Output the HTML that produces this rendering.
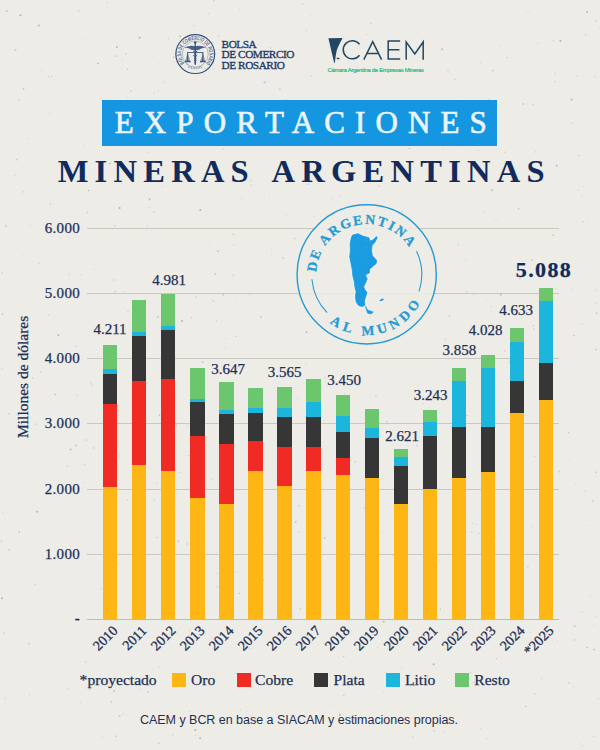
<!DOCTYPE html>
<html><head><meta charset="utf-8"><title>Exportaciones mineras argentinas</title>
<style>
html,body{margin:0;padding:0;}
body{width:600px;height:750px;position:relative;overflow:hidden;background:#edece6;font-family:"Liberation Serif",serif;color:#1d3057;}
.abs{position:absolute;}
.grid{position:absolute;left:87px;width:472px;height:1px;background:#c9c9c2;}
.yl{position:absolute;left:30px;width:50px;text-align:right;font-size:15px;line-height:16px;letter-spacing:0.3px;-webkit-text-stroke:0.25px #1d3057;}
.dl{position:absolute;width:60px;text-align:center;font-size:15px;line-height:16px;-webkit-text-stroke:0.25px #1d3057;}
.xl{position:absolute;font-size:14.1px;-webkit-text-stroke:0.3px #1d3057;line-height:16px;white-space:nowrap;transform-origin:100% 50%;transform:rotate(-45deg);text-align:right;width:60px;}
.seg{position:absolute;}
.lg{position:absolute;top:671px;-webkit-text-stroke:0.25px #1d3057;font-size:15.6px;line-height:18px;white-space:nowrap;}
.sw{position:absolute;top:673.4px;width:14.1px;height:14.1px;}
</style></head><body>
<svg class="abs" style="left:0;top:0" width="600" height="750" viewBox="0 0 600 750"><circle cx="194.3" cy="113.1" r="0.5" fill="#c9c9c6"/><circle cx="492.8" cy="70.6" r="1.0" fill="#c9c9c6"/><circle cx="545.8" cy="161.0" r="0.5" fill="#d8d8d4"/><circle cx="250.9" cy="180.5" r="1.0" fill="#d8d8d4"/><circle cx="35.5" cy="424.1" r="0.6" fill="#b4b4b2"/><circle cx="568.6" cy="432.8" r="0.8" fill="#c9c9c6"/><circle cx="585.8" cy="34.9" r="0.6" fill="#bdbdbb"/><circle cx="251.5" cy="405.5" r="1.0" fill="#bdbdbb"/><circle cx="336.2" cy="511.5" r="0.5" fill="#b4b4b2"/><circle cx="342.7" cy="140.9" r="0.5" fill="#b4b4b2"/><circle cx="427.3" cy="423.3" r="1.0" fill="#d2d2cf"/><circle cx="297.8" cy="398.8" r="0.7" fill="#d8d8d4"/><circle cx="351.3" cy="339.9" r="0.7" fill="#d2d2cf"/><circle cx="476.6" cy="524.2" r="0.6" fill="#c9c9c6"/><circle cx="344.7" cy="393.9" r="0.7" fill="#d8d8d4"/><circle cx="172.8" cy="735.1" r="0.5" fill="#b4b4b2"/><circle cx="250.9" cy="567.9" r="0.6" fill="#d8d8d4"/><circle cx="253.0" cy="721.5" r="0.5" fill="#b4b4b2"/><circle cx="343.8" cy="656.6" r="0.7" fill="#bdbdbb"/><circle cx="417.2" cy="445.8" r="1.0" fill="#d8d8d4"/><circle cx="41.3" cy="70.2" r="0.7" fill="#d8d8d4"/><circle cx="418.2" cy="48.7" r="0.7" fill="#b4b4b2"/><circle cx="595.9" cy="616.4" r="0.7" fill="#d8d8d4"/><circle cx="532.2" cy="260.3" r="0.8" fill="#bdbdbb"/><circle cx="100.8" cy="87.8" r="0.5" fill="#d2d2cf"/><circle cx="460.9" cy="97.0" r="0.6" fill="#d8d8d4"/><circle cx="234.6" cy="653.6" r="0.5" fill="#d2d2cf"/><circle cx="269.5" cy="412.1" r="0.6" fill="#d8d8d4"/><circle cx="518.4" cy="208.8" r="0.8" fill="#bdbdbb"/><circle cx="409.6" cy="285.3" r="0.6" fill="#d2d2cf"/><circle cx="49.8" cy="113.5" r="0.6" fill="#c9c9c6"/><circle cx="291.0" cy="441.8" r="0.7" fill="#bdbdbb"/><circle cx="2.5" cy="314.2" r="0.7" fill="#b4b4b2"/><circle cx="339.8" cy="714.8" r="1.0" fill="#b4b4b2"/><circle cx="393.0" cy="554.8" r="0.8" fill="#b4b4b2"/><circle cx="235.4" cy="299.2" r="0.5" fill="#d8d8d4"/><circle cx="380.6" cy="46.7" r="0.5" fill="#d2d2cf"/><circle cx="264.4" cy="82.4" r="1.0" fill="#c9c9c6"/><circle cx="61.4" cy="425.1" r="1.0" fill="#c9c9c6"/><circle cx="569.4" cy="460.3" r="0.5" fill="#d2d2cf"/><circle cx="368.4" cy="111.4" r="0.7" fill="#bdbdbb"/><circle cx="361.4" cy="355.6" r="0.5" fill="#d8d8d4"/><circle cx="595.9" cy="349.5" r="0.8" fill="#bdbdbb"/><circle cx="51.5" cy="76.6" r="0.7" fill="#bdbdbb"/><circle cx="287.2" cy="519.0" r="1.0" fill="#c9c9c6"/><circle cx="123.1" cy="714.0" r="0.7" fill="#d2d2cf"/><circle cx="414.0" cy="685.6" r="1.0" fill="#bdbdbb"/><circle cx="587.1" cy="647.5" r="0.7" fill="#b4b4b2"/><circle cx="220.0" cy="125.3" r="0.6" fill="#b4b4b2"/><circle cx="324.9" cy="377.0" r="0.6" fill="#b4b4b2"/><circle cx="486.9" cy="738.7" r="0.6" fill="#d2d2cf"/><circle cx="491.0" cy="554.9" r="0.6" fill="#d2d2cf"/><circle cx="310.6" cy="266.7" r="0.5" fill="#c9c9c6"/><circle cx="474.1" cy="354.2" r="0.6" fill="#b4b4b2"/><circle cx="573.9" cy="335.4" r="0.7" fill="#bdbdbb"/><circle cx="48.3" cy="76.6" r="0.8" fill="#d2d2cf"/><circle cx="202.6" cy="362.0" r="1.0" fill="#c9c9c6"/><circle cx="287.7" cy="489.7" r="0.5" fill="#c9c9c6"/><circle cx="545.9" cy="586.7" r="0.6" fill="#d8d8d4"/><circle cx="533.4" cy="325.4" r="0.7" fill="#c9c9c6"/><circle cx="480.5" cy="728.7" r="0.8" fill="#d8d8d4"/><circle cx="240.8" cy="710.1" r="0.6" fill="#d2d2cf"/><circle cx="595.9" cy="20.7" r="1.0" fill="#d8d8d4"/><circle cx="483.9" cy="109.6" r="1.0" fill="#d8d8d4"/><circle cx="394.4" cy="262.8" r="1.0" fill="#b4b4b2"/><circle cx="78.6" cy="10.7" r="0.5" fill="#b4b4b2"/><circle cx="449.7" cy="104.4" r="0.6" fill="#d2d2cf"/><circle cx="16.8" cy="159.6" r="1.0" fill="#d2d2cf"/><circle cx="458.2" cy="244.5" r="1.0" fill="#d8d8d4"/><circle cx="500.5" cy="45.7" r="0.7" fill="#d8d8d4"/><circle cx="397.5" cy="611.3" r="1.0" fill="#d8d8d4"/><circle cx="496.3" cy="658.6" r="0.6" fill="#b4b4b2"/><circle cx="91.1" cy="382.9" r="0.8" fill="#d2d2cf"/><circle cx="365.1" cy="582.0" r="0.6" fill="#d2d2cf"/><circle cx="84.9" cy="464.3" r="0.5" fill="#b4b4b2"/><circle cx="37.1" cy="511.7" r="1.0" fill="#b4b4b2"/><circle cx="289.5" cy="582.4" r="1.0" fill="#c9c9c6"/><circle cx="149.1" cy="207.7" r="0.5" fill="#b4b4b2"/><circle cx="271.3" cy="20.9" r="0.5" fill="#d8d8d4"/><circle cx="195.4" cy="730.0" r="1.0" fill="#b4b4b2"/><circle cx="119.6" cy="207.9" r="1.0" fill="#b4b4b2"/><circle cx="484.4" cy="380.8" r="0.6" fill="#b4b4b2"/><circle cx="525.9" cy="706.6" r="0.7" fill="#b4b4b2"/><circle cx="535.7" cy="151.9" r="0.8" fill="#d2d2cf"/><circle cx="250.0" cy="294.3" r="0.7" fill="#c9c9c6"/><circle cx="402.7" cy="321.3" r="0.6" fill="#bdbdbb"/><circle cx="470.4" cy="672.8" r="0.6" fill="#bdbdbb"/><circle cx="85.8" cy="662.1" r="0.8" fill="#d2d2cf"/><circle cx="448.0" cy="70.6" r="0.8" fill="#d2d2cf"/><circle cx="593.9" cy="624.3" r="0.6" fill="#d8d8d4"/><circle cx="596.4" cy="302.9" r="0.8" fill="#d2d2cf"/><circle cx="214.0" cy="69.1" r="0.7" fill="#c9c9c6"/><circle cx="202.8" cy="344.0" r="0.5" fill="#d8d8d4"/><circle cx="198.9" cy="467.9" r="1.0" fill="#c9c9c6"/><circle cx="67.7" cy="688.9" r="0.6" fill="#c9c9c6"/><circle cx="50.4" cy="203.9" r="0.6" fill="#bdbdbb"/><circle cx="453.5" cy="614.8" r="0.7" fill="#d8d8d4"/><circle cx="89.6" cy="689.4" r="1.0" fill="#d8d8d4"/><circle cx="420.3" cy="67.1" r="0.5" fill="#d2d2cf"/><circle cx="255.2" cy="54.3" r="0.5" fill="#c9c9c6"/><circle cx="481.0" cy="62.8" r="0.6" fill="#c9c9c6"/><circle cx="158.7" cy="91.3" r="0.5" fill="#bdbdbb"/><circle cx="596.6" cy="313.3" r="0.7" fill="#b4b4b2"/><circle cx="77.5" cy="395.2" r="0.6" fill="#c9c9c6"/><circle cx="581.5" cy="196.4" r="0.6" fill="#d2d2cf"/><circle cx="559.3" cy="471.5" r="1.0" fill="#d2d2cf"/><circle cx="174.0" cy="375.1" r="0.6" fill="#bdbdbb"/><circle cx="208.2" cy="13.6" r="0.7" fill="#c9c9c6"/><circle cx="9.2" cy="549.8" r="1.0" fill="#d2d2cf"/><circle cx="308.5" cy="184.3" r="0.8" fill="#c9c9c6"/><circle cx="395.0" cy="487.6" r="0.8" fill="#b4b4b2"/><circle cx="500.8" cy="294.8" r="1.0" fill="#bdbdbb"/><circle cx="412.6" cy="736.8" r="0.7" fill="#d2d2cf"/><circle cx="499.4" cy="530.0" r="0.6" fill="#d8d8d4"/><circle cx="593.7" cy="736.4" r="0.6" fill="#c9c9c6"/><circle cx="42.4" cy="555.7" r="0.7" fill="#d8d8d4"/><circle cx="97.9" cy="63.4" r="0.8" fill="#b4b4b2"/><circle cx="402.3" cy="211.4" r="0.6" fill="#bdbdbb"/><circle cx="27.1" cy="139.0" r="0.7" fill="#d8d8d4"/><circle cx="2.2" cy="273.1" r="0.7" fill="#b4b4b2"/><circle cx="194.1" cy="25.8" r="0.7" fill="#d2d2cf"/><circle cx="214.0" cy="0.8" r="0.8" fill="#c9c9c6"/><circle cx="284.8" cy="377.1" r="0.6" fill="#d2d2cf"/><circle cx="302.8" cy="3.7" r="0.7" fill="#c9c9c6"/><circle cx="86.3" cy="440.1" r="0.8" fill="#c9c9c6"/><circle cx="179.8" cy="472.3" r="0.5" fill="#b4b4b2"/><circle cx="574.6" cy="639.9" r="0.6" fill="#b4b4b2"/><circle cx="233.7" cy="244.6" r="0.8" fill="#d2d2cf"/><circle cx="170.5" cy="464.0" r="0.6" fill="#c9c9c6"/><circle cx="494.9" cy="536.3" r="1.0" fill="#d8d8d4"/><circle cx="440.3" cy="609.2" r="0.6" fill="#b4b4b2"/><circle cx="451.7" cy="426.4" r="0.5" fill="#b4b4b2"/><circle cx="478.8" cy="533.4" r="0.6" fill="#c9c9c6"/><circle cx="18.7" cy="99.8" r="0.7" fill="#c9c9c6"/><circle cx="226.0" cy="338.5" r="0.5" fill="#c9c9c6"/><circle cx="375.7" cy="510.5" r="0.8" fill="#bdbdbb"/><circle cx="2.0" cy="598.3" r="1.0" fill="#b4b4b2"/><circle cx="55.2" cy="394.5" r="0.8" fill="#bdbdbb"/><circle cx="485.5" cy="634.6" r="0.6" fill="#d2d2cf"/><circle cx="138.4" cy="487.4" r="0.8" fill="#d8d8d4"/><circle cx="507.3" cy="57.6" r="0.7" fill="#c9c9c6"/><circle cx="370.2" cy="482.1" r="0.5" fill="#b4b4b2"/><circle cx="88.5" cy="190.5" r="0.7" fill="#b4b4b2"/><circle cx="340.7" cy="9.4" r="0.5" fill="#d8d8d4"/><circle cx="161.3" cy="504.0" r="0.6" fill="#d8d8d4"/><circle cx="174.5" cy="387.4" r="0.8" fill="#d8d8d4"/><circle cx="279.8" cy="88.9" r="1.0" fill="#d2d2cf"/><circle cx="187.0" cy="64.4" r="0.8" fill="#c9c9c6"/><circle cx="173.8" cy="57.3" r="1.0" fill="#d8d8d4"/><circle cx="596.4" cy="290.1" r="0.6" fill="#c9c9c6"/><circle cx="348.9" cy="106.3" r="1.0" fill="#bdbdbb"/><circle cx="571.6" cy="99.5" r="1.0" fill="#bdbdbb"/><circle cx="532.1" cy="527.5" r="0.6" fill="#d8d8d4"/><circle cx="538.6" cy="364.6" r="0.5" fill="#d2d2cf"/><circle cx="2.2" cy="368.8" r="0.8" fill="#d8d8d4"/><circle cx="181.2" cy="105.5" r="0.7" fill="#d8d8d4"/><circle cx="189.6" cy="630.2" r="0.5" fill="#bdbdbb"/><circle cx="450.4" cy="629.3" r="0.5" fill="#d2d2cf"/><circle cx="427.8" cy="676.2" r="0.7" fill="#bdbdbb"/><circle cx="223.3" cy="294.7" r="1.0" fill="#c9c9c6"/><circle cx="216.4" cy="321.0" r="0.7" fill="#c9c9c6"/><circle cx="168.4" cy="38.7" r="0.7" fill="#d2d2cf"/><circle cx="149.6" cy="199.3" r="1.0" fill="#bdbdbb"/><circle cx="113.9" cy="280.0" r="0.8" fill="#c9c9c6"/><circle cx="487.2" cy="473.2" r="1.0" fill="#b4b4b2"/><circle cx="122.1" cy="60.4" r="0.8" fill="#d8d8d4"/><circle cx="368.9" cy="103.9" r="0.7" fill="#d8d8d4"/><circle cx="29.4" cy="695.1" r="0.6" fill="#d2d2cf"/><circle cx="283.3" cy="257.7" r="0.7" fill="#bdbdbb"/><circle cx="443.4" cy="732.2" r="0.7" fill="#d8d8d4"/><circle cx="393.6" cy="225.6" r="1.0" fill="#d8d8d4"/><circle cx="71.8" cy="482.4" r="0.5" fill="#d2d2cf"/><circle cx="300.4" cy="608.9" r="1.0" fill="#d2d2cf"/><circle cx="271.8" cy="249.6" r="0.8" fill="#d8d8d4"/><circle cx="83.8" cy="144.3" r="0.5" fill="#d2d2cf"/><circle cx="205.2" cy="68.3" r="0.6" fill="#bdbdbb"/><circle cx="155.0" cy="427.2" r="0.5" fill="#d8d8d4"/><circle cx="229.7" cy="559.4" r="0.6" fill="#d8d8d4"/><circle cx="162.1" cy="564.1" r="0.8" fill="#bdbdbb"/><circle cx="344.6" cy="270.1" r="1.0" fill="#b4b4b2"/><circle cx="377.8" cy="647.1" r="0.6" fill="#c9c9c6"/><circle cx="162.6" cy="186.3" r="0.8" fill="#d8d8d4"/><circle cx="259.1" cy="234.0" r="0.5" fill="#d2d2cf"/><circle cx="19.3" cy="532.1" r="0.8" fill="#b4b4b2"/><circle cx="293.9" cy="54.9" r="1.0" fill="#d8d8d4"/><circle cx="583.3" cy="186.3" r="0.5" fill="#d2d2cf"/><circle cx="92.6" cy="391.8" r="0.5" fill="#d8d8d4"/><circle cx="51.0" cy="582.6" r="0.5" fill="#d2d2cf"/><circle cx="139.5" cy="689.9" r="0.7" fill="#d2d2cf"/><circle cx="375.9" cy="396.2" r="0.8" fill="#c9c9c6"/><circle cx="59.7" cy="225.3" r="1.0" fill="#d2d2cf"/><circle cx="232.8" cy="167.7" r="1.0" fill="#c9c9c6"/><circle cx="6.3" cy="226.1" r="0.8" fill="#bdbdbb"/><circle cx="575.4" cy="483.4" r="0.6" fill="#d8d8d4"/><circle cx="315.8" cy="410.3" r="0.5" fill="#d8d8d4"/><circle cx="422.8" cy="230.5" r="0.5" fill="#d2d2cf"/><circle cx="299.0" cy="505.8" r="0.8" fill="#c9c9c6"/><circle cx="154.4" cy="500.5" r="0.7" fill="#d2d2cf"/><circle cx="295.8" cy="521.9" r="0.8" fill="#bdbdbb"/><circle cx="409.5" cy="148.6" r="0.7" fill="#b4b4b2"/><circle cx="40.5" cy="371.8" r="0.6" fill="#bdbdbb"/><circle cx="459.5" cy="145.4" r="0.8" fill="#d2d2cf"/><circle cx="159.0" cy="667.0" r="0.5" fill="#b4b4b2"/><circle cx="297.5" cy="140.5" r="0.6" fill="#d8d8d4"/><circle cx="250.2" cy="499.0" r="1.0" fill="#d2d2cf"/><circle cx="553.2" cy="40.8" r="0.5" fill="#b4b4b2"/><circle cx="85.1" cy="38.9" r="0.5" fill="#d2d2cf"/><circle cx="236.0" cy="673.6" r="0.7" fill="#c9c9c6"/><circle cx="598.5" cy="698.7" r="0.7" fill="#d2d2cf"/><circle cx="111.3" cy="701.9" r="0.8" fill="#c9c9c6"/><circle cx="187.1" cy="544.0" r="0.7" fill="#bdbdbb"/><circle cx="265.5" cy="81.7" r="0.5" fill="#bdbdbb"/><circle cx="48.5" cy="315.1" r="0.5" fill="#b4b4b2"/><circle cx="578.6" cy="155.6" r="0.7" fill="#bdbdbb"/><circle cx="493.2" cy="324.3" r="0.5" fill="#d8d8d4"/><circle cx="117.4" cy="406.1" r="0.8" fill="#d2d2cf"/><circle cx="194.0" cy="553.0" r="0.8" fill="#c9c9c6"/><circle cx="379.0" cy="186.0" r="0.8" fill="#c9c9c6"/><circle cx="225.3" cy="348.0" r="0.5" fill="#bdbdbb"/><circle cx="117.0" cy="47.1" r="1.0" fill="#bdbdbb"/><circle cx="217.8" cy="251.2" r="1.0" fill="#c9c9c6"/><circle cx="157.3" cy="537.5" r="0.7" fill="#bdbdbb"/><circle cx="178.4" cy="541.2" r="1.0" fill="#c9c9c6"/><circle cx="14.6" cy="175.4" r="0.8" fill="#d8d8d4"/><circle cx="572.3" cy="289.9" r="0.7" fill="#d8d8d4"/><circle cx="488.9" cy="99.5" r="0.8" fill="#d2d2cf"/><circle cx="5.2" cy="698.3" r="0.7" fill="#d2d2cf"/><circle cx="364.4" cy="245.8" r="0.7" fill="#d8d8d4"/><circle cx="217.1" cy="586.7" r="0.5" fill="#b4b4b2"/><circle cx="118.4" cy="564.7" r="0.6" fill="#d8d8d4"/><circle cx="38.8" cy="25.4" r="1.0" fill="#b4b4b2"/><circle cx="195.5" cy="735.2" r="0.5" fill="#c9c9c6"/><circle cx="158.9" cy="63.1" r="0.5" fill="#d8d8d4"/><circle cx="299.1" cy="532.3" r="0.8" fill="#d2d2cf"/><circle cx="140.5" cy="312.6" r="1.0" fill="#d2d2cf"/><circle cx="448.8" cy="635.2" r="0.5" fill="#bdbdbb"/><circle cx="176.3" cy="425.2" r="0.7" fill="#bdbdbb"/><circle cx="442.8" cy="149.4" r="0.6" fill="#d2d2cf"/><circle cx="147.2" cy="115.0" r="1.0" fill="#d2d2cf"/><circle cx="195.8" cy="297.1" r="0.6" fill="#b4b4b2"/><circle cx="315.8" cy="487.2" r="0.5" fill="#d8d8d4"/><circle cx="594.6" cy="76.7" r="0.8" fill="#d2d2cf"/><circle cx="504.3" cy="685.8" r="0.5" fill="#bdbdbb"/><circle cx="139.7" cy="37.8" r="1.0" fill="#b4b4b2"/><circle cx="116.5" cy="56.3" r="1.0" fill="#d2d2cf"/><circle cx="269.5" cy="195.0" r="0.5" fill="#c9c9c6"/><circle cx="382.5" cy="532.3" r="0.7" fill="#d2d2cf"/><circle cx="22.5" cy="255.0" r="0.5" fill="#d2d2cf"/><circle cx="599.9" cy="28.7" r="0.6" fill="#c9c9c6"/><circle cx="491.3" cy="306.7" r="0.7" fill="#d2d2cf"/><circle cx="372.6" cy="58.5" r="0.5" fill="#d8d8d4"/><circle cx="328.8" cy="47.5" r="0.5" fill="#d8d8d4"/><circle cx="398.4" cy="115.9" r="1.0" fill="#c9c9c6"/><circle cx="391.8" cy="298.3" r="0.7" fill="#d8d8d4"/><circle cx="592.9" cy="500.9" r="0.8" fill="#c9c9c6"/><circle cx="187.4" cy="424.9" r="0.7" fill="#d8d8d4"/><circle cx="249.9" cy="648.2" r="0.7" fill="#d2d2cf"/><circle cx="234.4" cy="303.7" r="0.5" fill="#d8d8d4"/><circle cx="541.0" cy="317.8" r="0.5" fill="#d8d8d4"/><circle cx="346.7" cy="273.5" r="0.6" fill="#d2d2cf"/><circle cx="8.9" cy="413.7" r="0.8" fill="#c9c9c6"/><circle cx="343.7" cy="695.4" r="1.0" fill="#d2d2cf"/><circle cx="87.5" cy="212.5" r="1.0" fill="#d2d2cf"/><circle cx="555.3" cy="81.6" r="0.8" fill="#d2d2cf"/><circle cx="181.0" cy="628.0" r="0.5" fill="#d8d8d4"/><circle cx="188.7" cy="455.7" r="0.8" fill="#c9c9c6"/><circle cx="542.5" cy="465.3" r="0.6" fill="#d2d2cf"/><circle cx="372.6" cy="461.0" r="0.6" fill="#d8d8d4"/><circle cx="109.8" cy="163.6" r="0.8" fill="#b4b4b2"/><circle cx="93.9" cy="269.4" r="0.6" fill="#d2d2cf"/><circle cx="582.4" cy="611.7" r="0.6" fill="#c9c9c6"/><circle cx="530.3" cy="631.9" r="0.5" fill="#bdbdbb"/><circle cx="70.6" cy="449.6" r="1.0" fill="#bdbdbb"/><circle cx="389.4" cy="231.2" r="0.6" fill="#d8d8d4"/><circle cx="233.5" cy="275.6" r="1.0" fill="#d8d8d4"/><circle cx="107.3" cy="2.6" r="0.8" fill="#d8d8d4"/><circle cx="141.2" cy="572.7" r="0.8" fill="#d2d2cf"/><circle cx="486.3" cy="300.3" r="0.5" fill="#d2d2cf"/><circle cx="215.1" cy="274.0" r="0.8" fill="#b4b4b2"/><circle cx="306.1" cy="30.6" r="0.6" fill="#c9c9c6"/><circle cx="553.3" cy="235.3" r="1.0" fill="#c9c9c6"/><circle cx="32.6" cy="377.9" r="0.8" fill="#d2d2cf"/><circle cx="15.5" cy="49.8" r="1.0" fill="#c9c9c6"/><circle cx="116.2" cy="736.3" r="0.8" fill="#bdbdbb"/><circle cx="574.0" cy="687.0" r="0.6" fill="#d2d2cf"/><circle cx="39.3" cy="263.2" r="0.7" fill="#d2d2cf"/><circle cx="194.3" cy="460.1" r="0.8" fill="#d2d2cf"/><circle cx="152.5" cy="723.2" r="0.8" fill="#d2d2cf"/><circle cx="355.1" cy="461.9" r="0.6" fill="#bdbdbb"/><circle cx="223.4" cy="149.2" r="0.8" fill="#d2d2cf"/><circle cx="381.9" cy="208.6" r="0.7" fill="#d8d8d4"/><circle cx="101.2" cy="588.7" r="0.5" fill="#b4b4b2"/><circle cx="29.1" cy="643.7" r="0.8" fill="#b4b4b2"/><circle cx="312.9" cy="516.5" r="0.5" fill="#bdbdbb"/><circle cx="595.8" cy="472.3" r="0.8" fill="#bdbdbb"/><circle cx="158.9" cy="742.9" r="1.0" fill="#d2d2cf"/><circle cx="216.2" cy="573.5" r="0.8" fill="#d2d2cf"/><circle cx="106.1" cy="557.7" r="0.5" fill="#bdbdbb"/><circle cx="491.9" cy="190.2" r="1.0" fill="#bdbdbb"/><circle cx="439.8" cy="560.3" r="0.6" fill="#d2d2cf"/><circle cx="174.6" cy="469.2" r="0.8" fill="#b4b4b2"/><circle cx="218.5" cy="35.8" r="0.8" fill="#d2d2cf"/><circle cx="367.5" cy="34.2" r="0.5" fill="#c9c9c6"/><circle cx="340.3" cy="227.8" r="1.0" fill="#bdbdbb"/><circle cx="320.5" cy="309.9" r="0.7" fill="#b4b4b2"/><circle cx="80.2" cy="274.7" r="0.8" fill="#d2d2cf"/><circle cx="80.8" cy="702.4" r="0.6" fill="#d2d2cf"/><circle cx="270.5" cy="47.8" r="0.6" fill="#bdbdbb"/><circle cx="241.2" cy="198.2" r="0.5" fill="#c9c9c6"/><circle cx="387.0" cy="421.7" r="0.7" fill="#b4b4b2"/><circle cx="387.4" cy="332.8" r="1.0" fill="#d8d8d4"/><circle cx="149.1" cy="677.6" r="0.5" fill="#c9c9c6"/><circle cx="318.9" cy="304.5" r="0.6" fill="#d2d2cf"/><circle cx="35.0" cy="584.2" r="0.5" fill="#b4b4b2"/><circle cx="330.6" cy="705.7" r="0.6" fill="#d8d8d4"/><circle cx="119.7" cy="456.1" r="1.0" fill="#d8d8d4"/><circle cx="488.0" cy="131.0" r="0.7" fill="#c9c9c6"/><circle cx="180.2" cy="36.4" r="0.8" fill="#b4b4b2"/><circle cx="3.8" cy="633.3" r="0.8" fill="#c9c9c6"/><circle cx="445.1" cy="339.4" r="0.6" fill="#c9c9c6"/><circle cx="156.9" cy="483.0" r="0.5" fill="#bdbdbb"/><circle cx="534.8" cy="693.9" r="0.7" fill="#c9c9c6"/><circle cx="159.6" cy="415.3" r="0.8" fill="#b4b4b2"/><circle cx="583.1" cy="221.7" r="0.6" fill="#c9c9c6"/><circle cx="528.0" cy="11.4" r="0.7" fill="#d2d2cf"/><circle cx="505.0" cy="152.1" r="0.6" fill="#bdbdbb"/><circle cx="115.2" cy="291.5" r="1.0" fill="#d2d2cf"/><circle cx="227.7" cy="638.9" r="1.0" fill="#d8d8d4"/><circle cx="283.3" cy="398.0" r="0.5" fill="#c9c9c6"/><circle cx="262.3" cy="543.5" r="1.0" fill="#bdbdbb"/><circle cx="473.5" cy="293.7" r="1.0" fill="#c9c9c6"/><circle cx="339.1" cy="128.7" r="0.5" fill="#c9c9c6"/><circle cx="67.1" cy="466.5" r="0.6" fill="#bdbdbb"/><circle cx="586.4" cy="525.6" r="0.5" fill="#c9c9c6"/><circle cx="83.0" cy="482.7" r="0.5" fill="#c9c9c6"/><circle cx="442.1" cy="49.3" r="1.0" fill="#bdbdbb"/><circle cx="119.6" cy="715.9" r="1.0" fill="#c9c9c6"/><circle cx="527.8" cy="566.8" r="0.8" fill="#c9c9c6"/><circle cx="147.9" cy="152.4" r="0.5" fill="#c9c9c6"/><circle cx="569.6" cy="683.3" r="0.5" fill="#bdbdbb"/><circle cx="286.3" cy="99.5" r="0.6" fill="#bdbdbb"/><circle cx="191.5" cy="317.8" r="0.5" fill="#bdbdbb"/><circle cx="154.0" cy="211.9" r="0.7" fill="#bdbdbb"/><circle cx="461.5" cy="451.5" r="0.8" fill="#bdbdbb"/><circle cx="371.0" cy="23.2" r="0.8" fill="#c9c9c6"/><circle cx="261.9" cy="579.8" r="0.7" fill="#d8d8d4"/><circle cx="422.8" cy="403.4" r="0.6" fill="#c9c9c6"/><circle cx="344.7" cy="215.3" r="0.8" fill="#c9c9c6"/><circle cx="314.1" cy="216.3" r="0.5" fill="#c9c9c6"/><circle cx="208.7" cy="71.8" r="0.6" fill="#d8d8d4"/><circle cx="355.5" cy="717.9" r="1.0" fill="#bdbdbb"/><circle cx="346.8" cy="119.2" r="0.6" fill="#d2d2cf"/><circle cx="299.0" cy="82.4" r="0.5" fill="#d8d8d4"/><circle cx="472.7" cy="522.9" r="0.5" fill="#bdbdbb"/><circle cx="213.4" cy="301.0" r="0.8" fill="#c9c9c6"/><circle cx="253.3" cy="484.4" r="0.7" fill="#d2d2cf"/><circle cx="181.9" cy="321.0" r="1.0" fill="#b4b4b2"/><circle cx="102.7" cy="736.8" r="0.6" fill="#d8d8d4"/><circle cx="76.1" cy="445.6" r="1.0" fill="#c9c9c6"/><circle cx="209.1" cy="245.0" r="0.6" fill="#d8d8d4"/><circle cx="397.3" cy="556.5" r="0.6" fill="#d8d8d4"/><circle cx="263.3" cy="580.1" r="1.0" fill="#d2d2cf"/><circle cx="75.6" cy="346.5" r="0.6" fill="#b4b4b2"/><circle cx="114.9" cy="226.1" r="1.0" fill="#d2d2cf"/><circle cx="434.0" cy="731.1" r="0.7" fill="#b4b4b2"/><circle cx="313.3" cy="120.7" r="0.7" fill="#d2d2cf"/><circle cx="155.2" cy="716.2" r="0.5" fill="#d2d2cf"/><circle cx="577.4" cy="76.2" r="0.8" fill="#d2d2cf"/><circle cx="590.3" cy="596.2" r="0.7" fill="#d8d8d4"/><circle cx="164.3" cy="82.0" r="0.5" fill="#bdbdbb"/><circle cx="123.9" cy="291.3" r="0.5" fill="#c9c9c6"/><circle cx="239.4" cy="593.3" r="0.6" fill="#b4b4b2"/><circle cx="588.5" cy="222.2" r="0.5" fill="#d2d2cf"/><circle cx="154.3" cy="553.7" r="0.5" fill="#d2d2cf"/><circle cx="544.8" cy="322.5" r="1.0" fill="#b4b4b2"/><circle cx="449.5" cy="315.9" r="0.6" fill="#b4b4b2"/><circle cx="511.5" cy="509.7" r="0.5" fill="#d8d8d4"/><circle cx="259.5" cy="194.9" r="0.5" fill="#d8d8d4"/><circle cx="145.4" cy="300.1" r="0.6" fill="#bdbdbb"/><circle cx="509.7" cy="362.1" r="0.5" fill="#b4b4b2"/><circle cx="515.1" cy="388.7" r="0.6" fill="#bdbdbb"/><circle cx="466.9" cy="291.5" r="0.8" fill="#c9c9c6"/><circle cx="22.9" cy="407.5" r="0.6" fill="#d2d2cf"/><circle cx="311.5" cy="75.8" r="1.0" fill="#d8d8d4"/><circle cx="324.6" cy="538.0" r="1.0" fill="#c9c9c6"/><circle cx="383.6" cy="621.7" r="1.0" fill="#bdbdbb"/><circle cx="246.2" cy="711.0" r="0.6" fill="#d2d2cf"/><circle cx="235.5" cy="572.0" r="0.5" fill="#b4b4b2"/><circle cx="213.3" cy="42.5" r="0.7" fill="#d8d8d4"/><circle cx="239.8" cy="10.0" r="0.8" fill="#d8d8d4"/><circle cx="377.1" cy="506.2" r="1.0" fill="#bdbdbb"/><circle cx="65.6" cy="227.6" r="0.8" fill="#b4b4b2"/><circle cx="582.9" cy="745.7" r="0.8" fill="#d8d8d4"/><circle cx="127.2" cy="97.0" r="0.5" fill="#d2d2cf"/><circle cx="281.5" cy="421.5" r="0.6" fill="#d2d2cf"/><circle cx="211.9" cy="479.1" r="0.8" fill="#d8d8d4"/><circle cx="597.7" cy="569.9" r="0.6" fill="#d8d8d4"/><circle cx="212.8" cy="638.0" r="0.7" fill="#d8d8d4"/><circle cx="412.5" cy="737.2" r="0.6" fill="#d8d8d4"/><circle cx="1.6" cy="541.3" r="0.7" fill="#bdbdbb"/><circle cx="147.0" cy="226.4" r="0.8" fill="#d8d8d4"/><circle cx="257.1" cy="478.0" r="0.7" fill="#d2d2cf"/><circle cx="557.2" cy="640.8" r="0.5" fill="#c9c9c6"/><circle cx="496.7" cy="679.4" r="0.6" fill="#b4b4b2"/><circle cx="498.8" cy="474.9" r="0.5" fill="#c9c9c6"/><circle cx="125.8" cy="54.0" r="0.7" fill="#bdbdbb"/><circle cx="364.9" cy="433.9" r="0.6" fill="#d2d2cf"/><circle cx="465.8" cy="259.8" r="0.6" fill="#d2d2cf"/><circle cx="542.5" cy="593.8" r="0.6" fill="#b4b4b2"/><circle cx="534.7" cy="456.3" r="0.5" fill="#b4b4b2"/><circle cx="472.8" cy="629.1" r="0.6" fill="#d8d8d4"/><circle cx="415.7" cy="398.1" r="0.8" fill="#c9c9c6"/><circle cx="333.0" cy="198.4" r="0.6" fill="#d2d2cf"/><circle cx="283.9" cy="417.9" r="0.8" fill="#d8d8d4"/><circle cx="543.3" cy="525.3" r="0.6" fill="#d8d8d4"/><circle cx="98.8" cy="449.7" r="0.5" fill="#d2d2cf"/><circle cx="504.5" cy="351.0" r="1.0" fill="#d8d8d4"/><circle cx="399.2" cy="630.4" r="0.7" fill="#d8d8d4"/><circle cx="251.3" cy="720.5" r="0.5" fill="#d2d2cf"/><circle cx="382.2" cy="477.1" r="0.5" fill="#c9c9c6"/><circle cx="365.8" cy="511.9" r="0.7" fill="#c9c9c6"/><circle cx="306.4" cy="363.5" r="0.6" fill="#c9c9c6"/><circle cx="128.0" cy="311.7" r="0.6" fill="#bdbdbb"/><circle cx="56.7" cy="494.3" r="0.7" fill="#d8d8d4"/><circle cx="467.1" cy="415.6" r="0.6" fill="#bdbdbb"/><circle cx="261.1" cy="316.8" r="1.0" fill="#c9c9c6"/><circle cx="496.0" cy="219.7" r="0.8" fill="#d8d8d4"/><circle cx="200.2" cy="738.2" r="1.0" fill="#bdbdbb"/><circle cx="585.0" cy="490.9" r="0.5" fill="#bdbdbb"/><circle cx="115.4" cy="534.9" r="0.6" fill="#b4b4b2"/><circle cx="583.6" cy="65.7" r="0.5" fill="#d8d8d4"/><circle cx="433.6" cy="664.2" r="1.0" fill="#b4b4b2"/><circle cx="29.8" cy="225.3" r="0.5" fill="#c9c9c6"/><circle cx="114.0" cy="691.1" r="1.0" fill="#c9c9c6"/><circle cx="473.4" cy="682.4" r="1.0" fill="#d8d8d4"/><circle cx="370.0" cy="470.1" r="1.0" fill="#c9c9c6"/><circle cx="127.5" cy="500.3" r="0.8" fill="#d2d2cf"/><circle cx="60.8" cy="136.0" r="0.5" fill="#d8d8d4"/><circle cx="464.7" cy="685.6" r="0.5" fill="#bdbdbb"/><circle cx="523.2" cy="104.0" r="0.7" fill="#b4b4b2"/><circle cx="426.1" cy="646.8" r="0.6" fill="#d8d8d4"/><circle cx="20.5" cy="15.3" r="1.0" fill="#b4b4b2"/><circle cx="560.3" cy="41.0" r="1.0" fill="#b4b4b2"/><circle cx="23.6" cy="89.1" r="0.8" fill="#b4b4b2"/><circle cx="417.4" cy="303.5" r="0.5" fill="#c9c9c6"/><circle cx="408.0" cy="445.4" r="0.6" fill="#d8d8d4"/><circle cx="461.9" cy="411.6" r="0.5" fill="#d8d8d4"/><circle cx="127.4" cy="113.8" r="0.5" fill="#d8d8d4"/><circle cx="2.9" cy="512.8" r="0.5" fill="#c9c9c6"/><circle cx="130.9" cy="91.0" r="0.8" fill="#c9c9c6"/><circle cx="165.3" cy="426.7" r="0.8" fill="#d2d2cf"/><circle cx="553.7" cy="274.4" r="0.6" fill="#c9c9c6"/><circle cx="175.9" cy="418.1" r="0.8" fill="#d8d8d4"/><circle cx="401.7" cy="667.5" r="0.5" fill="#c9c9c6"/><circle cx="6.8" cy="11.0" r="1.0" fill="#c9c9c6"/><circle cx="233.4" cy="234.4" r="1.0" fill="#d2d2cf"/><circle cx="574.6" cy="626.2" r="1.0" fill="#c9c9c6"/><circle cx="189.8" cy="711.6" r="0.8" fill="#d8d8d4"/><circle cx="406.1" cy="108.7" r="0.5" fill="#bdbdbb"/><circle cx="572.3" cy="123.0" r="0.8" fill="#d8d8d4"/><circle cx="231.4" cy="589.7" r="0.7" fill="#b4b4b2"/><circle cx="200.3" cy="209.9" r="1.0" fill="#b4b4b2"/><circle cx="199.2" cy="454.4" r="0.5" fill="#d2d2cf"/><circle cx="360.7" cy="231.4" r="0.8" fill="#d2d2cf"/><circle cx="226.0" cy="513.6" r="1.0" fill="#d2d2cf"/><circle cx="484.5" cy="212.5" r="0.5" fill="#bdbdbb"/><circle cx="157.8" cy="316.9" r="1.0" fill="#c9c9c6"/><circle cx="173.1" cy="105.5" r="1.0" fill="#d2d2cf"/><circle cx="164.3" cy="638.4" r="1.0" fill="#d8d8d4"/><circle cx="208.1" cy="63.8" r="1.0" fill="#d8d8d4"/><circle cx="478.4" cy="150.3" r="0.6" fill="#bdbdbb"/><circle cx="364.1" cy="508.2" r="0.8" fill="#d2d2cf"/><circle cx="555.6" cy="439.8" r="0.5" fill="#d8d8d4"/><circle cx="275.8" cy="65.8" r="0.7" fill="#c9c9c6"/><circle cx="139.7" cy="434.7" r="0.7" fill="#b4b4b2"/><circle cx="192.6" cy="379.6" r="0.6" fill="#d2d2cf"/><circle cx="127.6" cy="69.1" r="0.7" fill="#bdbdbb"/><circle cx="346.7" cy="269.2" r="1.0" fill="#d2d2cf"/><circle cx="147.8" cy="692.0" r="0.8" fill="#bdbdbb"/><circle cx="519.8" cy="278.8" r="0.8" fill="#c9c9c6"/><circle cx="93.7" cy="447.9" r="0.7" fill="#bdbdbb"/><circle cx="311.7" cy="15.4" r="0.5" fill="#d2d2cf"/><circle cx="594.2" cy="649.6" r="0.8" fill="#b4b4b2"/><circle cx="340.3" cy="196.2" r="0.7" fill="#d8d8d4"/><circle cx="58.3" cy="335.1" r="1.0" fill="#b4b4b2"/><circle cx="578.1" cy="190.5" r="0.5" fill="#bdbdbb"/><circle cx="120.6" cy="135.6" r="0.5" fill="#c9c9c6"/><circle cx="30.6" cy="418.0" r="0.8" fill="#d8d8d4"/><circle cx="568.3" cy="682.4" r="0.5" fill="#b4b4b2"/><circle cx="383.9" cy="691.6" r="0.5" fill="#bdbdbb"/><circle cx="191.2" cy="174.9" r="0.5" fill="#b4b4b2"/><circle cx="235.9" cy="336.3" r="0.6" fill="#bdbdbb"/><circle cx="579.5" cy="743.8" r="0.6" fill="#d2d2cf"/><circle cx="23.2" cy="191.9" r="0.7" fill="#c9c9c6"/><circle cx="541.7" cy="678.4" r="0.5" fill="#bdbdbb"/><circle cx="471.8" cy="532.2" r="0.8" fill="#c9c9c6"/><circle cx="60.6" cy="238.3" r="0.5" fill="#d2d2cf"/><circle cx="406.1" cy="224.1" r="1.0" fill="#d8d8d4"/><circle cx="454.7" cy="79.1" r="0.7" fill="#bdbdbb"/><circle cx="154.2" cy="93.1" r="0.8" fill="#d8d8d4"/><circle cx="101.1" cy="178.8" r="0.6" fill="#c9c9c6"/><circle cx="280.7" cy="684.4" r="0.5" fill="#d2d2cf"/><circle cx="556.6" cy="165.4" r="1.0" fill="#bdbdbb"/><circle cx="533.2" cy="104.8" r="0.8" fill="#c9c9c6"/><circle cx="555.6" cy="288.8" r="0.5" fill="#c9c9c6"/><circle cx="271.4" cy="254.8" r="0.6" fill="#d8d8d4"/><circle cx="69.4" cy="274.5" r="0.7" fill="#d2d2cf"/><circle cx="441.6" cy="135.2" r="0.8" fill="#b4b4b2"/><circle cx="533.6" cy="329.2" r="0.6" fill="#bdbdbb"/><circle cx="251.0" cy="185.1" r="0.5" fill="#bdbdbb"/><circle cx="342.6" cy="222.4" r="0.6" fill="#bdbdbb"/><circle cx="294.6" cy="238.6" r="0.8" fill="#c9c9c6"/><circle cx="92.0" cy="385.1" r="0.6" fill="#b4b4b2"/><circle cx="286.5" cy="214.7" r="0.7" fill="#d2d2cf"/><circle cx="582.4" cy="324.0" r="0.7" fill="#d2d2cf"/><circle cx="555.0" cy="73.2" r="0.7" fill="#d8d8d4"/><circle cx="537.7" cy="43.1" r="0.7" fill="#d2d2cf"/><circle cx="587.2" cy="12.0" r="1.0" fill="#bdbdbb"/><circle cx="306.5" cy="332.3" r="1.0" fill="#bdbdbb"/><circle cx="111.5" cy="326.4" r="0.8" fill="#d2d2cf"/></svg>
<div class="grid" style="top:553.7px"></div><div class="grid" style="top:488.6px"></div><div class="grid" style="top:423.4px"></div><div class="grid" style="top:358.2px"></div><div class="grid" style="top:293.0px"></div><div class="grid" style="top:227.9px"></div><div class="grid" style="top:618.9px;background:#bdbdb6"></div>
<div class="yl" style="top:545.7px">1.000</div><div class="yl" style="top:480.6px">2.000</div><div class="yl" style="top:415.4px">3.000</div><div class="yl" style="top:350.2px">4.000</div><div class="yl" style="top:285.0px">5.000</div><div class="yl" style="top:219.9px">6.000</div><div class="yl" style="top:610.4px;font-weight:bold">-</div>
<svg class="abs" style="left:0;top:0" width="600" height="750" viewBox="0 0 600 750"><circle cx="366.7" cy="274.4" r="69.6" fill="#edece6" fill-opacity="0.85" stroke="#259bd4" stroke-width="1.4"/><path d="M327.14,312.61 A55,55 0 0 1 311.91,279.19" fill="none" stroke="#259bd4" stroke-width="1.1"/><path d="M416.55,251.16 A55,55 0 0 1 419.01,291.40" fill="none" stroke="#259bd4" stroke-width="1.1"/><path id="tp1" d="M316.40,274.40 A50.3,50.3 0 0 1 417.00,274.39" fill="none"/><path id="tp2" d="M306.00,274.51 A60.7,60.7 0 0 0 427.40,274.41" fill="none"/><g transform="rotate(-14 366.7 274.4)"><text font-family="Liberation Serif,serif" font-weight="bold" font-size="13.6" letter-spacing="2.0" fill="#259bd4" stroke="#259bd4" stroke-width="0.3" text-anchor="middle"><textPath href="#tp1" startOffset="50%">DE ARGENTINA</textPath></text></g><g transform="rotate(-14 366.7 274.4)"><text font-family="Liberation Serif,serif" font-weight="bold" font-size="13.6" letter-spacing="4.3" fill="#259bd4" stroke="#259bd4" stroke-width="0.3" text-anchor="middle"><textPath href="#tp2" startOffset="50%">AL MUNDO</textPath></text></g><path d="M352.28,235.24 L355.48,234.22 L358.04,233.70 L362.52,235.88 L368.92,237.80 L369.82,241.00 L373.40,239.72 L376.22,236.52 L377.24,237.54 L375.32,241.64 L372.12,245.48 L371.48,250.60 L372.38,255.72 L376.60,260.20 L376.22,263.40 L372.76,266.60 L369.56,269.16 L369.30,273.00 L366.36,274.28 L365.72,276.20 L367.26,278.76 L365.72,282.60 L363.80,286.44 L364.70,289.64 L367.00,292.20 L365.72,296.68 L364.44,300.52 L364.95,305.00 L362.52,306.54 L358.68,305.64 L356.12,301.80 L355.48,296.68 L356.12,291.56 L354.84,286.44 L354.20,281.32 L352.92,276.20 L352.28,269.80 L351.00,263.40 L349.72,257.00 L350.36,250.60 L350.10,244.20 L351.00,239.08Z" fill="none" stroke="#f6f6f2" stroke-width="3" stroke-linejoin="round" stroke-opacity="0.8"/><path d="M352.28,235.24 L355.48,234.22 L358.04,233.70 L362.52,235.88 L368.92,237.80 L369.82,241.00 L373.40,239.72 L376.22,236.52 L377.24,237.54 L375.32,241.64 L372.12,245.48 L371.48,250.60 L372.38,255.72 L376.60,260.20 L376.22,263.40 L372.76,266.60 L369.56,269.16 L369.30,273.00 L366.36,274.28 L365.72,276.20 L367.26,278.76 L365.72,282.60 L363.80,286.44 L364.70,289.64 L367.00,292.20 L365.72,296.68 L364.44,300.52 L364.95,305.00 L362.52,306.54 L358.68,305.64 L356.12,301.80 L355.48,296.68 L356.12,291.56 L354.84,286.44 L354.20,281.32 L352.92,276.20 L352.28,269.80 L351.00,263.40 L349.72,257.00 L350.36,250.60 L350.10,244.20 L351.00,239.08Z" fill="#1b9be0" stroke="#1b9be0" stroke-width="0.8" stroke-linejoin="round"/><clipPath id="mapclip"><path d="M352.28,235.24 L355.48,234.22 L358.04,233.70 L362.52,235.88 L368.92,237.80 L369.82,241.00 L373.40,239.72 L376.22,236.52 L377.24,237.54 L375.32,241.64 L372.12,245.48 L371.48,250.60 L372.38,255.72 L376.60,260.20 L376.22,263.40 L372.76,266.60 L369.56,269.16 L369.30,273.00 L366.36,274.28 L365.72,276.20 L367.26,278.76 L365.72,282.60 L363.80,286.44 L364.70,289.64 L367.00,292.20 L365.72,296.68 L364.44,300.52 L364.95,305.00 L362.52,306.54 L358.68,305.64 L356.12,301.80 L355.48,296.68 L356.12,291.56 L354.84,286.44 L354.20,281.32 L352.92,276.20 L352.28,269.80 L351.00,263.40 L349.72,257.00 L350.36,250.60 L350.10,244.20 L351.00,239.08Z"/></clipPath><g clip-path="url(#mapclip)"><circle cx="357.2" cy="273.0" r="0.35" fill="#7cc8f0" fill-opacity="0.8"/><circle cx="360.1" cy="277.1" r="0.35" fill="#7cc8f0" fill-opacity="0.8"/><circle cx="365.8" cy="240.5" r="0.35" fill="#7cc8f0" fill-opacity="0.8"/><circle cx="352.3" cy="292.9" r="0.35" fill="#7cc8f0" fill-opacity="0.8"/><circle cx="357.7" cy="251.9" r="0.35" fill="#7cc8f0" fill-opacity="0.8"/><circle cx="373.9" cy="268.0" r="0.35" fill="#7cc8f0" fill-opacity="0.8"/><circle cx="370.4" cy="268.4" r="0.35" fill="#7cc8f0" fill-opacity="0.8"/><circle cx="366.1" cy="246.2" r="0.35" fill="#7cc8f0" fill-opacity="0.8"/><circle cx="366.0" cy="295.0" r="0.35" fill="#7cc8f0" fill-opacity="0.8"/><circle cx="363.5" cy="286.4" r="0.35" fill="#7cc8f0" fill-opacity="0.8"/><circle cx="366.8" cy="240.4" r="0.35" fill="#7cc8f0" fill-opacity="0.8"/><circle cx="368.7" cy="276.2" r="0.35" fill="#7cc8f0" fill-opacity="0.8"/><circle cx="358.6" cy="238.1" r="0.35" fill="#7cc8f0" fill-opacity="0.8"/><circle cx="371.0" cy="268.1" r="0.35" fill="#7cc8f0" fill-opacity="0.8"/><circle cx="367.8" cy="295.8" r="0.35" fill="#7cc8f0" fill-opacity="0.8"/><circle cx="367.7" cy="298.6" r="0.35" fill="#7cc8f0" fill-opacity="0.8"/><circle cx="360.7" cy="290.5" r="0.35" fill="#7cc8f0" fill-opacity="0.8"/><circle cx="361.8" cy="299.6" r="0.35" fill="#7cc8f0" fill-opacity="0.8"/><circle cx="371.3" cy="242.6" r="0.35" fill="#7cc8f0" fill-opacity="0.8"/><circle cx="355.0" cy="250.8" r="0.35" fill="#7cc8f0" fill-opacity="0.8"/><circle cx="373.2" cy="265.7" r="0.35" fill="#7cc8f0" fill-opacity="0.8"/><circle cx="365.8" cy="256.5" r="0.35" fill="#7cc8f0" fill-opacity="0.8"/><circle cx="363.2" cy="262.2" r="0.35" fill="#7cc8f0" fill-opacity="0.8"/><circle cx="359.7" cy="275.8" r="0.35" fill="#7cc8f0" fill-opacity="0.8"/><circle cx="364.9" cy="297.5" r="0.35" fill="#7cc8f0" fill-opacity="0.8"/><circle cx="367.0" cy="299.2" r="0.35" fill="#7cc8f0" fill-opacity="0.8"/><circle cx="370.8" cy="303.4" r="0.35" fill="#7cc8f0" fill-opacity="0.8"/><circle cx="366.8" cy="247.1" r="0.35" fill="#7cc8f0" fill-opacity="0.8"/><circle cx="370.9" cy="301.6" r="0.35" fill="#7cc8f0" fill-opacity="0.8"/><circle cx="371.9" cy="274.7" r="0.35" fill="#7cc8f0" fill-opacity="0.8"/><circle cx="367.7" cy="250.4" r="0.35" fill="#7cc8f0" fill-opacity="0.8"/><circle cx="370.3" cy="275.0" r="0.35" fill="#7cc8f0" fill-opacity="0.8"/><circle cx="358.3" cy="240.3" r="0.35" fill="#7cc8f0" fill-opacity="0.8"/><circle cx="370.8" cy="303.3" r="0.35" fill="#7cc8f0" fill-opacity="0.8"/><circle cx="353.9" cy="290.4" r="0.35" fill="#7cc8f0" fill-opacity="0.8"/><circle cx="361.0" cy="246.3" r="0.35" fill="#7cc8f0" fill-opacity="0.8"/><circle cx="358.5" cy="288.3" r="0.35" fill="#7cc8f0" fill-opacity="0.8"/><circle cx="371.2" cy="239.0" r="0.35" fill="#7cc8f0" fill-opacity="0.8"/><circle cx="365.5" cy="239.1" r="0.35" fill="#7cc8f0" fill-opacity="0.8"/><circle cx="367.8" cy="258.5" r="0.35" fill="#7cc8f0" fill-opacity="0.8"/></g><path d="M365.46,305.90 L367.64,310.12 L373.40,312.04 L371.10,313.96 L367.64,313.32 L366.36,309.74Z" fill="#1b9be0" stroke="#1b9be0" stroke-width="0.5" stroke-linejoin="round"/><ellipse cx="381.7" cy="299.9" rx="2.2" ry="1" transform="rotate(-25 381.7 299.9)" fill="#1b9be0"/></svg>
<div class="seg" style="left:102.90px;top:487.0px;width:14.4px;height:132.4px;background:#fdb714"></div><div class="seg" style="left:102.90px;top:404.0px;width:14.4px;height:83.0px;background:#ef2b24"></div><div class="seg" style="left:102.90px;top:374.0px;width:14.4px;height:30.0px;background:#363636"></div><div class="seg" style="left:102.90px;top:369.0px;width:14.4px;height:5.0px;background:#1cb5dc"></div><div class="seg" style="left:102.90px;top:345.0px;width:14.4px;height:24.0px;background:#6cc66d"></div>
<div class="xl" style="left:54.7px;top:620.0px">2010</div>
<div class="seg" style="left:131.98px;top:465.0px;width:14.4px;height:154.4px;background:#fdb714"></div><div class="seg" style="left:131.98px;top:381.0px;width:14.4px;height:84.0px;background:#ef2b24"></div><div class="seg" style="left:131.98px;top:336.0px;width:14.4px;height:45.0px;background:#363636"></div><div class="seg" style="left:131.98px;top:331.6px;width:14.4px;height:4.4px;background:#1cb5dc"></div><div class="seg" style="left:131.98px;top:300.0px;width:14.4px;height:31.6px;background:#6cc66d"></div>
<div class="xl" style="left:83.8px;top:620.0px">2011</div>
<div class="seg" style="left:161.06px;top:471.0px;width:14.4px;height:148.4px;background:#fdb714"></div><div class="seg" style="left:161.06px;top:378.6px;width:14.4px;height:92.4px;background:#ef2b24"></div><div class="seg" style="left:161.06px;top:330.0px;width:14.4px;height:48.6px;background:#363636"></div><div class="seg" style="left:161.06px;top:326.4px;width:14.4px;height:3.6px;background:#1cb5dc"></div><div class="seg" style="left:161.06px;top:294.4px;width:14.4px;height:32.0px;background:#6cc66d"></div>
<div class="xl" style="left:112.9px;top:620.0px">2012</div>
<div class="seg" style="left:190.14px;top:497.6px;width:14.4px;height:121.8px;background:#fdb714"></div><div class="seg" style="left:190.14px;top:436.0px;width:14.4px;height:61.6px;background:#ef2b24"></div><div class="seg" style="left:190.14px;top:402.4px;width:14.4px;height:33.6px;background:#363636"></div><div class="seg" style="left:190.14px;top:399.4px;width:14.4px;height:3.0px;background:#1cb5dc"></div><div class="seg" style="left:190.14px;top:368.0px;width:14.4px;height:31.4px;background:#6cc66d"></div>
<div class="xl" style="left:141.9px;top:620.0px">2013</div>
<div class="seg" style="left:219.22px;top:504.0px;width:14.4px;height:115.4px;background:#fdb714"></div><div class="seg" style="left:219.22px;top:444.0px;width:14.4px;height:60.0px;background:#ef2b24"></div><div class="seg" style="left:219.22px;top:414.0px;width:14.4px;height:30.0px;background:#363636"></div><div class="seg" style="left:219.22px;top:409.6px;width:14.4px;height:4.4px;background:#1cb5dc"></div><div class="seg" style="left:219.22px;top:382.4px;width:14.4px;height:27.2px;background:#6cc66d"></div>
<div class="xl" style="left:171.0px;top:620.0px">2014</div>
<div class="seg" style="left:248.30px;top:471.0px;width:14.4px;height:148.4px;background:#fdb714"></div><div class="seg" style="left:248.30px;top:441.0px;width:14.4px;height:30.0px;background:#ef2b24"></div><div class="seg" style="left:248.30px;top:413.4px;width:14.4px;height:27.6px;background:#363636"></div><div class="seg" style="left:248.30px;top:407.6px;width:14.4px;height:5.8px;background:#1cb5dc"></div><div class="seg" style="left:248.30px;top:388.0px;width:14.4px;height:19.6px;background:#6cc66d"></div>
<div class="xl" style="left:200.1px;top:620.0px">2015</div>
<div class="seg" style="left:277.38px;top:485.6px;width:14.4px;height:133.8px;background:#fdb714"></div><div class="seg" style="left:277.38px;top:447.0px;width:14.4px;height:38.6px;background:#ef2b24"></div><div class="seg" style="left:277.38px;top:417.4px;width:14.4px;height:29.6px;background:#363636"></div><div class="seg" style="left:277.38px;top:407.6px;width:14.4px;height:9.8px;background:#1cb5dc"></div><div class="seg" style="left:277.38px;top:387.4px;width:14.4px;height:20.2px;background:#6cc66d"></div>
<div class="xl" style="left:229.2px;top:620.0px">2016</div>
<div class="seg" style="left:306.46px;top:471.0px;width:14.4px;height:148.4px;background:#fdb714"></div><div class="seg" style="left:306.46px;top:447.0px;width:14.4px;height:24.0px;background:#ef2b24"></div><div class="seg" style="left:306.46px;top:417.0px;width:14.4px;height:30.0px;background:#363636"></div><div class="seg" style="left:306.46px;top:402.4px;width:14.4px;height:14.6px;background:#1cb5dc"></div><div class="seg" style="left:306.46px;top:379.4px;width:14.4px;height:23.0px;background:#6cc66d"></div>
<div class="xl" style="left:258.3px;top:620.0px">2017</div>
<div class="seg" style="left:335.54px;top:475.2px;width:14.4px;height:144.2px;background:#fdb714"></div><div class="seg" style="left:335.54px;top:458.4px;width:14.4px;height:16.8px;background:#ef2b24"></div><div class="seg" style="left:335.54px;top:432.4px;width:14.4px;height:26.0px;background:#363636"></div><div class="seg" style="left:335.54px;top:415.6px;width:14.4px;height:16.8px;background:#1cb5dc"></div><div class="seg" style="left:335.54px;top:394.8px;width:14.4px;height:20.8px;background:#6cc66d"></div>
<div class="xl" style="left:287.3px;top:620.0px">2018</div>
<div class="seg" style="left:364.62px;top:478.4px;width:14.4px;height:141.0px;background:#fdb714"></div><div class="seg" style="left:364.62px;top:438.0px;width:14.4px;height:40.4px;background:#363636"></div><div class="seg" style="left:364.62px;top:427.6px;width:14.4px;height:10.4px;background:#1cb5dc"></div><div class="seg" style="left:364.62px;top:408.6px;width:14.4px;height:19.0px;background:#6cc66d"></div>
<div class="xl" style="left:316.4px;top:620.0px">2019</div>
<div class="seg" style="left:393.70px;top:504.0px;width:14.4px;height:115.4px;background:#fdb714"></div><div class="seg" style="left:393.70px;top:466.0px;width:14.4px;height:38.0px;background:#363636"></div><div class="seg" style="left:393.70px;top:457.0px;width:14.4px;height:9.0px;background:#1cb5dc"></div><div class="seg" style="left:393.70px;top:449.0px;width:14.4px;height:8.0px;background:#6cc66d"></div>
<div class="xl" style="left:345.5px;top:620.0px">2020</div>
<div class="seg" style="left:422.78px;top:489.2px;width:14.4px;height:130.2px;background:#fdb714"></div><div class="seg" style="left:422.78px;top:435.6px;width:14.4px;height:53.6px;background:#363636"></div><div class="seg" style="left:422.78px;top:422.4px;width:14.4px;height:13.2px;background:#1cb5dc"></div><div class="seg" style="left:422.78px;top:409.5px;width:14.4px;height:12.9px;background:#6cc66d"></div>
<div class="xl" style="left:374.6px;top:620.0px">2021</div>
<div class="seg" style="left:451.86px;top:478.4px;width:14.4px;height:141.0px;background:#fdb714"></div><div class="seg" style="left:451.86px;top:427.0px;width:14.4px;height:51.4px;background:#363636"></div><div class="seg" style="left:451.86px;top:381.4px;width:14.4px;height:45.6px;background:#1cb5dc"></div><div class="seg" style="left:451.86px;top:368.0px;width:14.4px;height:13.4px;background:#6cc66d"></div>
<div class="xl" style="left:403.7px;top:620.0px">2022</div>
<div class="seg" style="left:480.94px;top:472.0px;width:14.4px;height:147.4px;background:#fdb714"></div><div class="seg" style="left:480.94px;top:427.0px;width:14.4px;height:45.0px;background:#363636"></div><div class="seg" style="left:480.94px;top:368.0px;width:14.4px;height:59.0px;background:#1cb5dc"></div><div class="seg" style="left:480.94px;top:355.0px;width:14.4px;height:13.0px;background:#6cc66d"></div>
<div class="xl" style="left:432.7px;top:620.0px">2023</div>
<div class="seg" style="left:510.02px;top:413.0px;width:14.4px;height:206.4px;background:#fdb714"></div><div class="seg" style="left:510.02px;top:381.4px;width:14.4px;height:31.6px;background:#363636"></div><div class="seg" style="left:510.02px;top:341.6px;width:14.4px;height:39.8px;background:#1cb5dc"></div><div class="seg" style="left:510.02px;top:328.3px;width:14.4px;height:13.3px;background:#6cc66d"></div>
<div class="xl" style="left:461.8px;top:620.0px">2024</div>
<div class="seg" style="left:539.10px;top:400.0px;width:14.4px;height:219.4px;background:#fdb714"></div><div class="seg" style="left:539.10px;top:363.0px;width:14.4px;height:37.0px;background:#363636"></div><div class="seg" style="left:539.10px;top:300.7px;width:14.4px;height:62.3px;background:#1cb5dc"></div><div class="seg" style="left:539.10px;top:287.9px;width:14.4px;height:12.8px;background:#6cc66d"></div>
<div class="xl" style="left:490.9px;top:620.0px">*2025</div>
<div class="dl" style="left:80.0px;top:321.4px">4.211</div><div class="dl" style="left:139.2px;top:271.6px">4.981</div><div class="dl" style="left:198.0px;top:361.0px">3.647</div><div class="dl" style="left:254.6px;top:364.4px">3.565</div><div class="dl" style="left:314.0px;top:372.4px">3.450</div><div class="dl" style="left:372.0px;top:427.7px">2.621</div><div class="dl" style="left:400.5px;top:386.7px">3.243</div><div class="dl" style="left:429.4px;top:341.5px">3.858</div><div class="dl" style="left:455.7px;top:321.7px">4.028</div><div class="dl" style="left:486.0px;top:301.7px">4.633</div><div class="dl" style="left:503.29999999999995px;width:80px;top:258px;font-size:22px;line-height:24px;font-weight:bold;letter-spacing:1.4px;text-indent:1.4px;color:#112b5c">5.088</div>
<div class="abs" style="left:-37.3px;top:370.0px;width:120px;text-align:center;font-size:15.5px;line-height:16px;-webkit-text-stroke:0.25px #1d3057;white-space:nowrap;transform:rotate(-90deg);transform-origin:50% 50%">Millones de dólares</div>
<div class="abs" style="left:102px;top:100px;width:395px;height:45.5px;background:#1496e0"></div><div class="abs" id="t1" style="left:102px;top:100px;width:395px;height:45.5px;line-height:45.6px;text-align:center;font-size:31px;letter-spacing:10.13px;color:#eaf4fb;-webkit-text-stroke:0.7px #eaf4fb;white-space:nowrap;text-indent:12.6px">EXPORTACIONES</div><div class="abs" id="t2" style="left:0;top:150px;width:600px;line-height:42px;text-align:center;font-size:32.5px;font-weight:bold;letter-spacing:6.26px;word-spacing:4px;color:#112b5c;white-space:nowrap;text-indent:8.5px">MINERAS ARGENTINAS</div>
<svg class="abs" style="left:0;top:0" width="600" height="110" viewBox="0 0 600 110"><circle cx="195.25" cy="54.1" r="19.4" fill="none" stroke="#34507d" stroke-width="1.2"/><circle cx="195.25" cy="54.1" r="13.0" fill="none" stroke="#34507d" stroke-width="0.55" stroke-opacity="0.6"/><path id="sp" d="M184.41,63.20 A14.15,14.15 0 1 1 206.09,63.20" fill="none"/><text font-family="Liberation Sans,sans-serif" font-weight="bold" font-size="5.7" fill="#34507d" fill-opacity="0.85" textLength="64.2" lengthAdjust="spacingAndGlyphs"><textPath href="#sp" startOffset="0" textLength="64.2" lengthAdjust="spacingAndGlyphs">BOLSA DE COMERCIO DE ROSARIO</textPath></text><path d="M188.18,66.35 A14.15,14.15 0 0 0 202.32,66.35" fill="none" stroke="#34507d" stroke-width="2.2" stroke-opacity="0.45" stroke-dasharray="0.9 0.7"/><g fill="#34507d" stroke="none" fill-opacity="0.9"><rect x="194.55" y="42.2" width="1.4" height="22.6"/><circle cx="195.25" cy="42.6" r="1.3"/><path d="M195.25,46.2 Q190.25,44.6 184.25,47.6 Q189.25,48.2 190.75,49.6 Q193.25,50.4 195.25,50.2 Z"/><path d="M195.25,46.2 Q200.25,44.6 206.25,47.6 Q201.25,48.2 199.75,49.6 Q197.25,50.4 195.25,50.2 Z"/><rect x="187.05" y="52.0" width="16.4" height="0.9"/><path d="M187.65,52.6 L184.95000000000002,61.4 H190.35 Z" fill-opacity="0.5"/><rect x="184.75" y="60.8" width="5.8" height="1.5"/><rect x="187.15" y="52.6" width="1" height="8.4"/><path d="M202.85,52.6 L200.15,61.4 H205.54999999999998 Z" fill-opacity="0.5"/><rect x="199.95" y="60.8" width="5.8" height="1.5"/><rect x="202.35" y="52.6" width="1" height="8.4"/></g><g fill="none" stroke="#34507d" stroke-width="1.0" stroke-opacity="0.85"><path d="M193.05,51 Q198.65,53.2 193.45,55.6 Q198.25,58 194.05,60.2 Q197.25,62 195.25,63.6"/><path d="M197.45,51 Q191.85,53.2 197.05,55.6 Q192.25,58 196.45,60.2 Q193.25,62 195.25,63.6"/></g></svg>
<div class="abs" id="bcr" style="left:221.6px;top:39.1px;font-size:11.3px;line-height:10.35px;color:#223a66;-webkit-text-stroke:0.32px #223a66;white-space:nowrap;letter-spacing:-0.47px">BOLSA<br>DE COMERCIO<br>DE ROSARIO</div>
<svg class="abs" style="left:0;top:0" width="600" height="110" viewBox="0 0 600 110"><path d="M328.4,38.2 L342.6,38.0 Q338,46.5 336.6,50.7 Q335.6,56 334.8,62.8 Q334.4,63.6 334.1,62.6 Z" fill="#234863"/><path d="M336.8,57.6 Q338.6,58.0 340.2,58.5 Q338.4,59.6 336.8,58.9 Z" fill="#234863"/><g fill="none" stroke="#234863" stroke-width="1.5" stroke-linecap="butt" stroke-linejoin="miter"><path d="M359.53,44.35 A9.05,9.05 0 1 0 359.53,55.25"/><path d="M363.8,59.7 L372.7,41.7 L381.6,59.7"/><path d="M366.6,53.5 H378.8"/><path d="M400.2,40.9 H388.2 V59.1 H400.2"/><path d="M388.2,49.75 H399.4"/><path d="M406.2,59.8 V42.0 L414.8,54.0 L423.2,42.0 V59.8"/></g></svg>
<div class="abs" id="caemsub" style="left:327.6px;top:66.3px;font-family:'Liberation Sans',sans-serif;font-size:5.8px;line-height:8px;color:#2bb87c;-webkit-text-stroke:0.2px #2bb87c;white-space:nowrap;letter-spacing:-0.24px">Cámara Argentina de Empresas Mineras</div>
<div class="lg" id="lg0" style="left:79.6px">*proyectado</div><div class="sw" style="left:172.4px;background:#fdb714"></div><div class="lg" style="left:191.0px">Oro</div><div class="sw" style="left:236.5px;background:#ef2b24"></div><div class="lg" style="left:255.1px">Cobre</div><div class="sw" style="left:314.0px;background:#363636"></div><div class="lg" style="left:333.5px">Plata</div><div class="sw" style="left:385.5px;background:#1cb5dc"></div><div class="lg" style="left:405.0px">Litio</div><div class="sw" style="left:454.8px;background:#6cc66d"></div><div class="lg" style="left:474.3px">Resto</div>
<div class="abs" id="foot" style="left:0;top:710.6px;width:600px;text-align:center;font-family:'Liberation Sans',sans-serif;font-size:12.5px;line-height:18px;color:#1d3057;white-space:nowrap;letter-spacing:-0.03px;text-indent:-2px">CAEM y BCR en base a SIACAM y estimaciones propias.</div>
</body></html>
